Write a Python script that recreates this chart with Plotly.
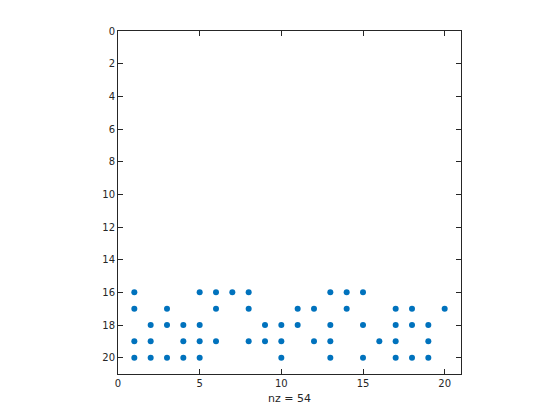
"""Sparsity pattern (spy) panel."""
import plotly.graph_objects as go

# non-zero entries, grouped by row
row16 = [1, 5, 6, 7, 8, 13, 14, 15]
row17 = [1, 3, 6, 8, 11, 12, 14, 17, 18, 20]
row18 = [2, 3, 4, 5, 9, 10, 11, 13, 15, 17, 18, 19]
row19 = [1, 2, 4, 5, 6, 8, 9, 10, 12, 13, 16, 17, 19]
row20 = [1, 2, 3, 4, 5, 10, 13, 15, 17, 18, 19]
rows = {16: row16, 17: row17, 18: row18, 19: row19, 20: row20}

xticks = [0, 5, 10, 15, 20]
yticks = list(range(0, 21, 2))

cols, rws = [], []
for r, cs in rows.items():
    cols += cs
    rws += [r] * len(cs)
nz = len(cols)

fig = go.Figure()
fig.add_trace(
    go.Scatter(
        x=cols, y=rws, mode="markers",
        marker=dict(color="#0072BD", size=6, symbol="circle", line=dict(width=0)),
        showlegend=False, hoverinfo="x+y",
    )
)

axis_style = dict(
    showline=True, linecolor="#262626", linewidth=1,
    mirror="ticks", ticks="inside", ticklen=5, tickcolor="#262626",
    showgrid=False, zeroline=False,
    tickfont=dict(family="DejaVu Sans", size=10, color="#262626"),
)
fig.update_xaxes(
    range=[0, 21], tickvals=xticks,
    title=dict(text=f"nz = {nz}", font=dict(family="DejaVu Sans", size=11, color="#262626"), standoff=6),
    **axis_style,
)
fig.update_yaxes(range=[21, 0], tickvals=yticks, **axis_style)

# page body has an 8px margin, so offsets are shifted to land the box in place
fig.update_layout(
    width=560, height=420,
    paper_bgcolor="white", plot_bgcolor="white",
    margin=dict(l=110, r=107, t=23, b=54),
)

fig.write_html("out.html")
